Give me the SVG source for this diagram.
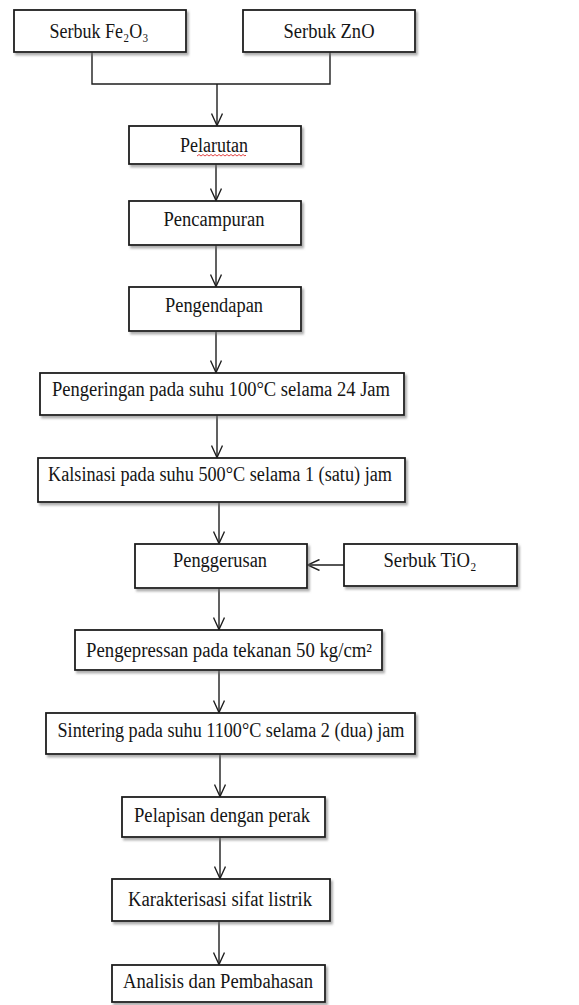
<svg xmlns="http://www.w3.org/2000/svg" width="579" height="1005" viewBox="0 0 579 1005">
<defs>
<filter id="sh" x="-5%" y="-10%" width="115%" height="140%">
<feDropShadow dx="2" dy="2.5" stdDeviation="1.2" flood-color="#777" flood-opacity="0.6"/>
</filter>
<marker id="ah" viewBox="0 0 13 12" refX="13" refY="6" markerWidth="13" markerHeight="12" markerUnits="userSpaceOnUse" orient="auto">
<path d="M0.5,0.5 L12.5,6 L0.5,11.5" fill="none" stroke="#1e1e1e" stroke-width="1.4"/>
</marker>
</defs>
<style>
rect.b{fill:#fff;stroke:#1e1e1e;stroke-width:1.8;filter:url(#sh)}
text{font-family:"Liberation Serif","Times New Roman",serif;font-size:20px;fill:#151515;text-anchor:middle}
.c{fill:none;stroke:#1e1e1e;stroke-width:1.4}
</style>
<g id="connectors">
<path class="c" d="M92,52 V84 H330 V52"/>
<path class="c" d="M217,84 V126" marker-end="url(#ah)"/>
<path class="c" d="M216,164 V201" marker-end="url(#ah)"/>
<path class="c" d="M216,245 V287" marker-end="url(#ah)"/>
<path class="c" d="M216,331 V373" marker-end="url(#ah)"/>
<path class="c" d="M217,415 V458" marker-end="url(#ah)"/>
<path class="c" d="M219,502 V544" marker-end="url(#ah)"/>
<path class="c" d="M344,565 H307" marker-end="url(#ah)"/>
<path class="c" d="M219,588 V630" marker-end="url(#ah)"/>
<path class="c" d="M219,670 V713" marker-end="url(#ah)"/>
<path class="c" d="M220,754 V797" marker-end="url(#ah)"/>
<path class="c" d="M220,837 V879" marker-end="url(#ah)"/>
<path class="c" d="M219,921 V965" marker-end="url(#ah)"/>
</g>
<g id="n-fe2o3">
<rect class="b" x="14" y="10" width="172" height="42"/>
<text x="99" y="38" textLength="99" lengthAdjust="spacingAndGlyphs">Serbuk Fe₂O₃</text>
</g>
<g id="n-zno">
<rect class="b" x="243" y="10" width="172" height="42"/>
<text x="329" y="38" textLength="91" lengthAdjust="spacingAndGlyphs">Serbuk ZnO</text>
</g>
<g id="n-pelarutan">
<rect class="b" x="129" y="126" width="172" height="38"/>
<text x="214" y="152" textLength="68" lengthAdjust="spacingAndGlyphs">Pelarutan</text>
<path d="M197,156 l2,-1.5 l2,1.5 l2,-1.5 l2,1.5 l2,-1.5 l2,1.5 l2,-1.5 l2,1.5 l2,-1.5 l2,1.5 l2,-1.5 l2,1.5 l2,-1.5 l2,1.5 l2,-1.5 l2,1.5 l2,-1.5 l2,1.5 l2,-1.5 l2,1.5 l2,-1.5 l2,1.5 l2,-1.5 l2,1.5 l1,-1" fill="none" stroke="#e03030" stroke-width="0.9"/>
</g>
<g id="n-pencampuran">
<rect class="b" x="129" y="201" width="172" height="44"/>
<text x="214" y="226" textLength="101" lengthAdjust="spacingAndGlyphs">Pencampuran</text>
</g>
<g id="n-pengendapan">
<rect class="b" x="129" y="287" width="172" height="44"/>
<text x="214" y="312" textLength="98" lengthAdjust="spacingAndGlyphs">Pengendapan</text>
</g>
<g id="n-pengeringan">
<rect class="b" x="40" y="373" width="364" height="42"/>
<text x="221" y="396" textLength="338" lengthAdjust="spacingAndGlyphs">Pengeringan pada suhu 100°C selama 24 Jam</text>
</g>
<g id="n-kalsinasi">
<rect class="b" x="38" y="458" width="367" height="44"/>
<text x="220" y="481" textLength="344" lengthAdjust="spacingAndGlyphs">Kalsinasi pada suhu 500°C selama 1 (satu) jam</text>
</g>
<g id="n-penggerusan">
<rect class="b" x="135" y="544" width="172" height="44"/>
<text x="220" y="567" textLength="94" lengthAdjust="spacingAndGlyphs">Penggerusan</text>
</g>
<g id="n-tio2">
<rect class="b" x="344" y="544" width="173" height="42"/>
<text x="430" y="567" textLength="93" lengthAdjust="spacingAndGlyphs">Serbuk TiO₂</text>
</g>
<g id="n-pengepressan">
<rect class="b" x="75" y="630" width="307" height="40"/>
<text x="229" y="657" textLength="286" lengthAdjust="spacingAndGlyphs">Pengepressan pada tekanan 50 kg/cm²</text>
</g>
<g id="n-sintering">
<rect class="b" x="46" y="713" width="369" height="41"/>
<text x="231" y="737" textLength="347" lengthAdjust="spacingAndGlyphs">Sintering pada suhu 1100°C selama 2 (dua) jam</text>
</g>
<g id="n-pelapisan">
<rect class="b" x="122" y="797" width="203" height="40"/>
<text x="222" y="822" textLength="176" lengthAdjust="spacingAndGlyphs">Pelapisan dengan perak</text>
</g>
<g id="n-karakterisasi">
<rect class="b" x="112" y="879" width="218" height="42"/>
<text x="220" y="906" textLength="184" lengthAdjust="spacingAndGlyphs">Karakterisasi sifat listrik</text>
</g>
<g id="n-analisis">
<rect class="b" x="112" y="965" width="213" height="37"/>
<text x="218" y="988" textLength="190" lengthAdjust="spacingAndGlyphs">Analisis dan Pembahasan</text>
</g>
</svg>
